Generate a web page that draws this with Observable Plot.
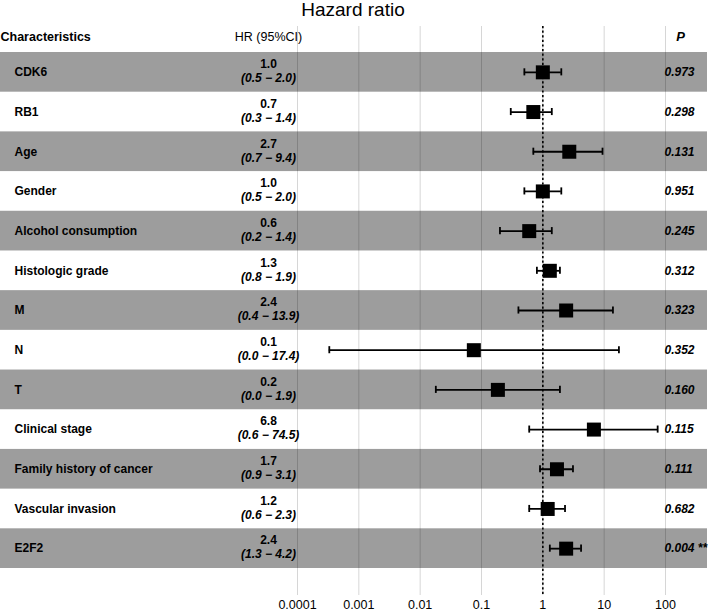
<!DOCTYPE html>
<html>
<head>
<meta charset="utf-8">
<script src="https://cdn.jsdelivr.net/npm/d3@7"></script>
<script src="https://cdn.jsdelivr.net/npm/@observablehq/plot@0.6"></script>
<style>
  html, body { margin: 0; padding: 0; background: white; }
  #chart svg { display: block; }
</style>
</head>
<body>
<div id="chart"></div>
<script>
const names = ["CDK6", "RB1", "Age", "Gender", "Alcohol consumption", "Histologic grade", "M", "N", "T", "Clinical stage", "Family history of cancer", "Vascular invasion", "E2F2"];
const hr    = [1.0, 0.7, 2.7, 1.0, 0.6, 1.3, 2.4, 0.075, 0.185, 6.8, 1.7, 1.2, 2.4];
const lower = [0.5, 0.3, 0.7, 0.5, 0.2, 0.8, 0.4, 0.00033, 0.018, 0.6, 0.9, 0.6, 1.3];
const upper = [2.0, 1.4, 9.4, 2.0, 1.4, 1.9, 13.9, 17.4, 1.9, 74.5, 3.1, 2.3, 4.2];
const pvals = ["0.973", "0.298", "0.131", "0.951", "0.245", "0.312", "0.323", "0.352", "0.160", "0.115", "0.111", "0.682", "0.004 **"];
const tickValues = [0.0001, 0.001, 0.01, 0.1, 1, 10, 100];
const tickLabels = ["0.0001", "0.001", "0.01", "0.1", "1", "10", "100"];
const title = "Hazard ratio";
const headers = ["Characteristics", "HR (95%CI)", "P"];

const rows = names.map((name, i) => ({
  name, hr: hr[i], lo: lower[i], hi: upper[i], p: pvals[i],
  hrText: hr[i].toFixed(1),
  ciText: `(${lower[i].toFixed(1)} \u2212 ${upper[i].toFixed(1)})`
}));
const shaded = names.filter((d, i) => i % 2 === 0);

const FONT = "'Liberation Sans', Arial, Helvetica, sans-serif";
const ML = 297, MR = 44;

const chart = Plot.plot({
  width: 709,
  height: 611,
  marginLeft: ML,
  marginRight: MR,
  marginTop: 52,
  marginBottom: 43,
  style: {fontFamily: FONT, fontSize: "12px", color: "black", background: "white"},
  x: {type: "log", domain: [0.0001, 100], axis: null},
  y: {type: "band", domain: names, padding: 0, round: false, axis: null},
  marks: [
    Plot.cell(shaded, {y: d => d, fill: "#9d9d9d", insetLeft: -ML, insetRight: -(MR - 2)}),
    Plot.ruleX(tickValues, {x: d => d, stroke: "black", strokeOpacity: 0.16, strokeWidth: 1, insetTop: -26, insetBottom: -27}),
    Plot.ruleX([1], {x: d => d, stroke: "black", strokeWidth: 1.6, strokeDasharray: "2.2,2.4", insetTop: -26, insetBottom: -28}),
    Plot.ruleY(rows, {y: "name", x1: "lo", x2: "hi", stroke: "black", strokeWidth: 1.8}),
    Plot.tickX(rows, {x: "lo", y: "name", stroke: "black", strokeWidth: 1.8, insetTop: 16.3, insetBottom: 16.3}),
    Plot.tickX(rows, {x: "hi", y: "name", stroke: "black", strokeWidth: 1.8, insetTop: 16.3, insetBottom: 16.3}),
    Plot.dot(rows, {x: "hr", y: "name", symbol: "square", r: 7.9, fill: "black", stroke: null}),
    Plot.text(rows, {y: "name", text: "name", frameAnchor: "left", dx: 14 - ML, textAnchor: "start", lineAnchor: "middle", fontWeight: "bold", fontSize: 12}),
    Plot.text(rows, {y: "name", text: "hrText", frameAnchor: "left", dx: 268 - ML, dy: -8, textAnchor: "middle", lineAnchor: "middle", fontWeight: "bold", fontSize: 12}),
    Plot.text(rows, {y: "name", text: "ciText", frameAnchor: "left", dx: 268 - ML, dy: 6, textAnchor: "middle", lineAnchor: "middle", fontWeight: "bold", fontStyle: "italic", fontSize: 12}),
    Plot.text(rows, {y: "name", text: "p", frameAnchor: "right", dx: -1, textAnchor: "start", lineAnchor: "middle", fontWeight: "bold", fontStyle: "italic", fontSize: 12}),
    Plot.text([headers[0]], {text: d => d, frameAnchor: "top-left", dx: -ML, dy: -16, textAnchor: "start", lineAnchor: "middle", fontWeight: "bold", fontSize: 12.5}),
    Plot.text([headers[1]], {text: d => d, frameAnchor: "top-left", dx: 268 - ML, dy: -16, textAnchor: "middle", lineAnchor: "middle", fontSize: 12.5}),
    Plot.text([headers[2]], {text: d => d, frameAnchor: "top-right", dx: 15, dy: -16, textAnchor: "middle", lineAnchor: "middle", fontWeight: "bold", fontStyle: "italic", fontSize: 13}),
    Plot.text([title], {text: d => d, frameAnchor: "top", dx: 352.5 - (ML + 665) / 2, dy: -43, textAnchor: "middle", lineAnchor: "middle", fontSize: 19}),
    Plot.axisX({ticks: tickValues, tickFormat: (d) => tickLabels[tickValues.indexOf(d)], tickSize: 0, tickPadding: 32, fontSize: 12.5, label: null})
  ]
});
document.getElementById("chart").appendChild(chart);
</script>
</body>
</html>
